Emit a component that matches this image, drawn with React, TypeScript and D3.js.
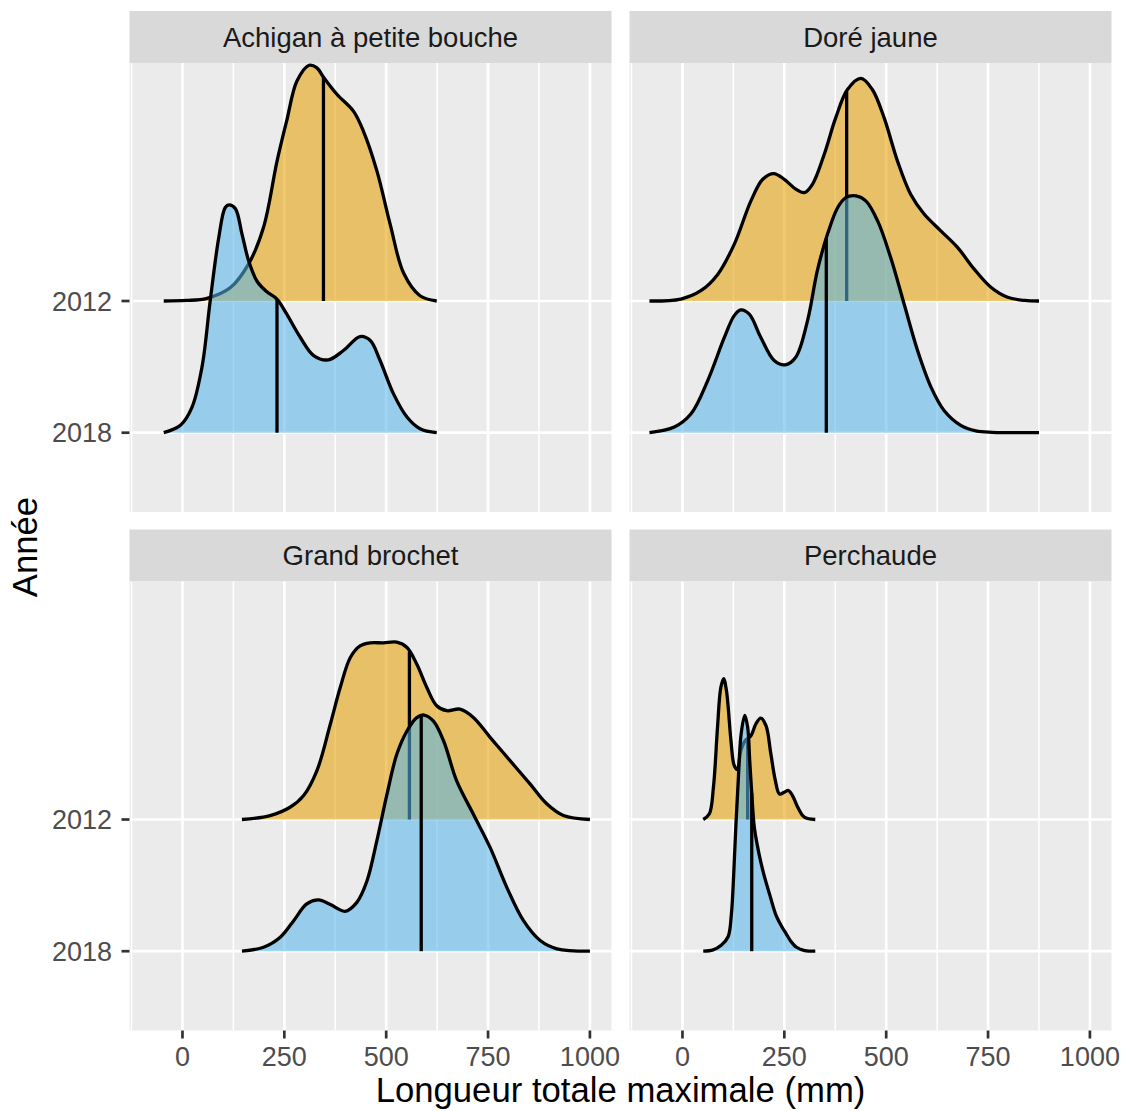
import React from "react";
import * as d3 from "d3";

type Pt = [number, number];

const species = ["Achigan à petite bouche", "Doré jaune", "Grand brochet", "Perchaude"];
const years = ["2012", "2018"];
const xTicks = [0, 250, 500, 750, 1000];
const xMinorTicks = [-125, 125, 375, 625, 875];

// Ridge outlines: [longueur (mm), hauteur relative]
const achigan2012: Pt[] = [[-46,0],[10,0.004],[60,0.02],[117,0.10],[162,0.28],[199,0.56],[232,1.06],[256,1.37],[281,1.67],[311,1.79],[330,1.77],[346,1.70],[379,1.57],[420,1.44],[444,1.29],[477,0.99],[510,0.58],[543,0.21],[583,0.04],[624,0]];
const achigan2018: Pt[] = [[-46,0],[-5,0.056],[23,0.19],[48,0.50],[68,1.00],[89,1.48],[105,1.71],[115,1.73],[130,1.70],[146,1.51],[162,1.31],[183,1.15],[207,1.07],[232,1.015],[256,0.90],[289,0.725],[322,0.586],[358,0.553],[395,0.624],[436,0.73],[461,0.70],[485,0.548],[518,0.295],[551,0.119],[583,0.03],[624,0]];
const dore2012: Pt[] = [[-81,0],[-4,0.015],[45,0.078],[86,0.20],[127,0.43],[168,0.76],[197,0.924],[224,0.967],[250,0.924],[278,0.85],[299,0.823],[319,0.886],[348,1.114],[376,1.39],[405,1.606],[438,1.69],[466,1.606],[495,1.39],[528,1.06],[560,0.81],[593,0.66],[634,0.533],[675,0.407],[716,0.242],[757,0.104],[798,0.028],[840,0.004],[875,0]];
const dore2018: Pt[] = [[-81,0],[-20,0.043],[21,0.144],[62,0.396],[103,0.725],[127,0.889],[143,0.932],[164,0.90],[192,0.725],[225,0.548],[252,0.515],[278,0.573],[307,0.851],[331,1.23],[356,1.508],[381,1.71],[401,1.785],[426,1.798],[450,1.76],[479,1.608],[511,1.33],[544,0.977],[577,0.624],[610,0.346],[642,0.169],[683,0.056],[720,0.014],[760,0.003],[800,0.0008],[840,0.0002],[875,0]];
const brochet2012: Pt[] = [[146,0],[215,0.03],[264,0.093],[297,0.18],[330,0.371],[363,0.725],[387,1.0],[412,1.23],[436,1.318],[461,1.341],[493,1.341],[526,1.346],[551,1.306],[575,1.18],[600,1.0],[624,0.864],[649,0.826],[681,0.838],[714,0.775],[755,0.624],[804,0.447],[853,0.27],[894,0.119],[935,0.03],[1000,0]];
const brochet2018: Pt[] = [[146,0],[199,0.03],[240,0.106],[273,0.232],[305,0.359],[334,0.389],[363,0.354],[399,0.303],[428,0.371],[453,0.535],[477,0.838],[502,1.192],[526,1.495],[551,1.672],[575,1.773],[593,1.793],[616,1.747],[641,1.596],[673,1.293],[714,1.04],[755,0.788],[796,0.485],[837,0.232],[878,0.081],[919,0.018],[1000,0]];
const perchaude2012: Pt[] = [[51,0],[66,0.043],[76,0.245],[86,0.70],[94,1.0],[101,1.07],[108,0.977],[119,0.60],[127,0.41],[135,0.38],[143,0.52],[154,0.60],[168,0.636],[180,0.725],[192,0.77],[205,0.712],[217,0.497],[228,0.295],[238,0.194],[250,0.207],[260,0.22],[270,0.182],[283,0.093],[299,0.018],[326,0]];
const perchaude2018: Pt[] = [[51,0],[75,0.01],[95,0.045],[112,0.11],[120,0.28],[126,0.6],[131,0.95],[137,1.3],[144,1.65],[153,1.79],[160,1.7],[165,1.45],[170,1.2],[176,0.95],[184,0.8],[192,0.68],[200,0.58],[215,0.42],[230,0.27],[245,0.18],[255,0.13],[265,0.08],[280,0.03],[300,0.005],[326,0]];

const ridges2012: Pt[][] = [achigan2012, dore2012, brochet2012, perchaude2012];
const ridges2018: Pt[][] = [achigan2018, dore2018, brochet2018, perchaude2018];
const medians2012 = [346, 403, 557, 160];
const medians2018 = [232, 353, 586, 170];

const W = 1123;
const H = 1111;
const FONT = "'Liberation Sans', Arial, Helvetica, sans-serif";
const colsX: [number, number][] = [[129.5, 611.5], [629.5, 1111.5]];
const rowsY = [
  { stripTop: 11, panelTop: 63, panelBottom: 512 },
  { stripTop: 529.5, panelTop: 581.5, panelBottom: 1030.5 },
];
const xDomain: [number, number] = [-130, 1053];
const yDomain: [number, number] = [0.398, 3.807];
const yearPos: Record<string, number> = { "2012": 2, "2018": 1 };
const fills: Record<string, string> = { "2012": "#E69F00", "2018": "#56B4E9" };

function interp(pts: Pt[], v: number): number {
  for (let i = 0; i < pts.length - 1; i++) {
    const [a, ha] = pts[i];
    const [b, hb] = pts[i + 1];
    if (v >= a && v <= b) return ha + ((v - a) / (b - a)) * (hb - ha);
  }
  return 0;
}

const curve = d3.curveCatmullRom.alpha(0.5);

function Panel({ idx }: { idx: number }) {
  const col = idx % 2;
  const row = Math.floor(idx / 2);
  const [x0, x1] = colsX[col];
  const r = rowsY[row];
  const x = d3.scaleLinear().domain(xDomain).range([x0, x1]);
  const y = d3.scaleLinear().domain(yDomain).range([r.panelBottom, r.panelTop]);
  const ridgeData: { year: string; pts: Pt[]; med: number }[] = [
    { year: "2012", pts: ridges2012[idx], med: medians2012[idx] },
    { year: "2018", pts: ridges2018[idx], med: medians2018[idx] },
  ];
  return (
    <g>
      <rect x={x0} y={r.stripTop} width={x1 - x0} height={r.panelTop - r.stripTop} fill="#D9D9D9" />
      <text x={(x0 + x1) / 2} y={(r.stripTop + r.panelTop) / 2} dy="0.36em" textAnchor="middle"
        fontFamily={FONT} fontSize={27.5} fill="#1A1A1A">{species[idx]}</text>
      <rect x={x0} y={r.panelTop} width={x1 - x0} height={r.panelBottom - r.panelTop} fill="#EBEBEB" />
      {xMinorTicks.map((t) => (
        <line key={"mi" + t} x1={x(t)} x2={x(t)} y1={r.panelTop} y2={r.panelBottom} stroke="#FFFFFF" strokeWidth={1.5} />
      ))}
      {xTicks.map((t) => (
        <line key={"ma" + t} x1={x(t)} x2={x(t)} y1={r.panelTop} y2={r.panelBottom} stroke="#FFFFFF" strokeWidth={2.7} />
      ))}
      {years.map((yr) => (
        <line key={"h" + yr} x1={x0} x2={x1} y1={y(yearPos[yr])} y2={y(yearPos[yr])} stroke="#FFFFFF" strokeWidth={2.7} />
      ))}
      {ridgeData.map((d) => {
        const pos = yearPos[d.year];
        const area = d3.area<Pt>().x((p) => x(p[0])).y0(y(pos)).y1((p) => y(pos + p[1])).curve(curve);
        const line = d3.line<Pt>().x((p) => x(p[0])).y((p) => y(pos + p[1])).curve(curve);
        const hm = interp(d.pts, d.med);
        return (
          <g key={d.year}>
            <path d={area(d.pts) || ""} fill={fills[d.year]} fillOpacity={0.56} stroke="none" />
            <path d={line(d.pts) || ""} fill="none" stroke="#000000" strokeWidth={3.3} strokeLinejoin="round" />
            <line x1={x(d.med)} x2={x(d.med)} y1={y(pos)} y2={y(pos + hm)} stroke="#000000" strokeWidth={3.3} />
          </g>
        );
      })}
      {row === 1 && xTicks.map((t) => (
        <g key={"xt" + t}>
          <line x1={x(t)} x2={x(t)} y1={r.panelBottom} y2={r.panelBottom + 8} stroke="#333333" strokeWidth={2.7} />
          <text x={x(t)} y={r.panelBottom + 35.5} textAnchor="middle" fontFamily={FONT} fontSize={27} fill="#4D4D4D">{t}</text>
        </g>
      ))}
      {col === 0 && years.map((yr) => (
        <g key={"yt" + yr}>
          <line x1={x0 - 8} x2={x0} y1={y(yearPos[yr])} y2={y(yearPos[yr])} stroke="#333333" strokeWidth={2.7} />
          <text x={x0 - 17.5} y={y(yearPos[yr])} dy="0.36em" textAnchor="end" fontFamily={FONT} fontSize={27} fill="#4D4D4D">{yr}</text>
        </g>
      ))}
    </g>
  );
}

export default function App() {
  return (
    <svg width={W} height={H} viewBox={`0 0 ${W} ${H}`} style={{ position: "absolute", left: 0, top: 0, background: "#FFFFFF" }}>
      <rect x={0} y={0} width={W} height={H} fill="#FFFFFF" />
      {species.map((_, i) => (
        <Panel key={i} idx={i} />
      ))}
      <text x={(colsX[0][0] + colsX[1][1]) / 2} y={1102} textAnchor="middle" fontFamily={FONT} fontSize={34.7} fill="#000000">
        Longueur totale maximale (mm)
      </text>
      <text transform={`translate(37,547) rotate(-90)`} textAnchor="middle" fontFamily={FONT} fontSize={34.7} fill="#000000">
        Année
      </text>
    </svg>
  );
}
